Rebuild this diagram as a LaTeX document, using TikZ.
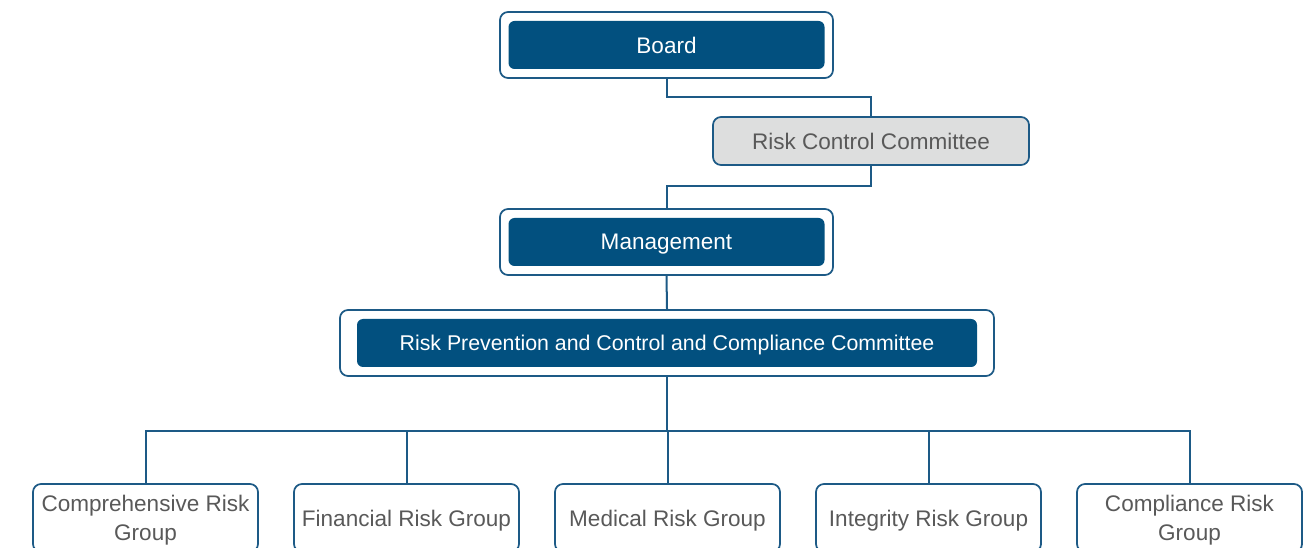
\documentclass[tikz,border=0pt]{standalone}
\usepackage{fontspec}
\setmainfont{Liberation Sans}
\definecolor{navy}{HTML}{02507F}
\definecolor{edge}{HTML}{1D5A86}
\definecolor{txtgray}{HTML}{595959}
\definecolor{panel}{HTML}{DDDEDE}
\begin{document}
\begin{tikzpicture}[x=0.75pt,y=-0.75pt,
  outerbox/.style={draw=edge,line width=1.3pt,fill=white,rounded corners=6pt,inner sep=0pt,
    minimum width=333*0.75pt,minimum height=66*0.75pt},
  innerbox/.style={fill=navy,rounded corners=4.5pt,inner sep=0pt,text=white,text depth=0pt,
    font=\fontsize{16.9pt}{20pt}\selectfont},
  graybox/.style={draw=edge,line width=1.3pt,fill=panel,rounded corners=6pt,inner sep=0pt,
    minimum width=316*0.75pt,minimum height=48*0.75pt,text=txtgray,text depth=0pt,
    font=\fontsize{16.9pt}{20pt}\selectfont},
  groupbox/.style={draw=edge,line width=1.3pt,fill=white,rounded corners=6pt,inner sep=0pt,
    minimum width=225*0.75pt,minimum height=68*0.75pt,text=txtgray,align=center,text depth=0pt,
    font=\fontsize{16.9pt}{21.75pt}\selectfont},
  link/.style={draw=edge,line width=1.5pt}]
\useasboundingbox (0,0) rectangle (1312,548);
\clip (0,0) rectangle (1312,548);
% top
\node[outerbox] (board) at (666.5,45) {};
\node[innerbox,minimum width=316*0.75pt,minimum height=48*0.75pt] (boardin) at (board.center) {Board};
\node[graybox] (rcc) at (871,141) {Risk Control Committee};
\node[outerbox] (mgmt) at (666.5,242) {};
\node[innerbox,minimum width=316*0.75pt,minimum height=48*0.75pt] (mgmtin) at (mgmt.center) {Management};
\node[outerbox,minimum width=654*0.75pt] (rpc) at (667,343) {};
\node[innerbox,minimum width=620*0.75pt,minimum height=48*0.75pt,font=\fontsize{16pt}{19pt}\selectfont] (rpcin) at (rpc.center) {Risk Prevention and Control and Compliance Committee};
% groups
\node[groupbox] (g1) at (145.5,518) {Comprehensive Risk\\Group};
\node[groupbox] (g2) at (406.5,518) {Financial Risk Group};
\node[groupbox] (g3) at (667.5,518) {Medical Risk Group};
\node[groupbox] (g4) at (928.5,518) {Integrity Risk Group};
\node[groupbox] (g5) at (1189.5,518) {Compliance Risk\\Group};
% connectors
\draw[link] (board.south) -- ++(0,18) -| (rcc.north);
\draw[link] (rcc.south) -- ++(0,20) -| (mgmt.north);
\draw[link] (mgmt.south) -- (rpc.north);
\draw[link] (rpc.south) -- ++(0,54) coordinate (bus);
\foreach \g in {g1,g2,g3,g4,g5}{\draw[link] (bus) -| (\g.north);}
\end{tikzpicture}
\end{document}
